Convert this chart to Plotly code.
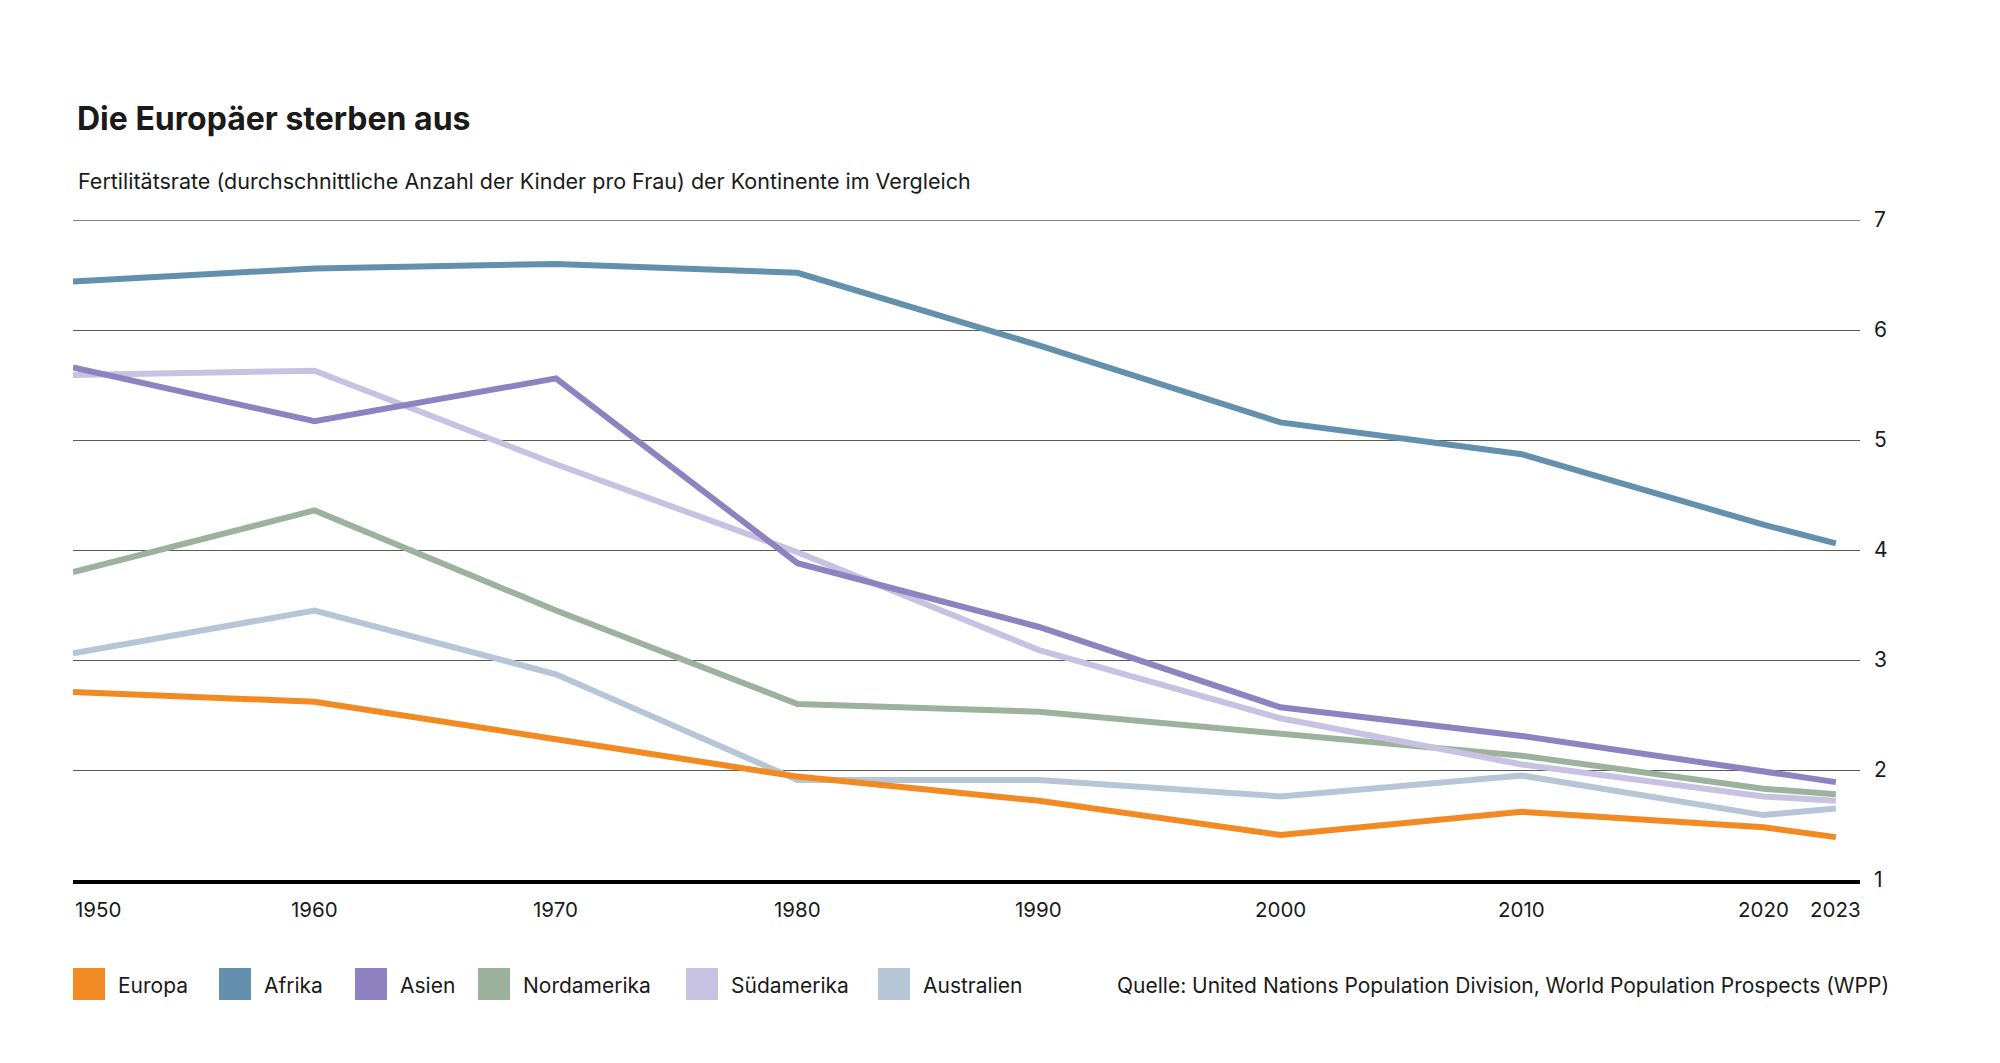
import plotly.graph_objects as go

# data
years = [1950, 1960, 1970, 1980, 1990, 2000, 2010, 2020, 2023]
europa = [2.71, 2.62, 2.28, 1.94, 1.72, 1.41, 1.62, 1.48, 1.39]
afrika = [6.44, 6.56, 6.60, 6.52, 5.86, 5.16, 4.87, 4.23, 4.06]
asien = [5.66, 5.17, 5.56, 3.88, 3.30, 2.57, 2.31, 1.99, 1.89]
nordamerika = [3.80, 4.36, 3.45, 2.60, 2.53, 2.33, 2.13, 1.83, 1.78]
suedamerika = [5.59, 5.63, 4.78, 3.98, 3.09, 2.47, 2.05, 1.76, 1.72]
australien = [3.06, 3.45, 2.87, 1.91, 1.91, 1.76, 1.95, 1.59, 1.65]

series_names = ["Europa", "Afrika", "Asien", "Nordamerika", "Südamerika", "Australien"]
series_values = [europa, afrika, asien, nordamerika, suedamerika, australien]
series_colors = ["#F28A24", "#6391AD", "#8E83C0", "#9DB29C", "#C8C2E2", "#B6C6D6"]

tick_years = [1950, 1960, 1970, 1980, 1990, 2000, 2010, 2020, 2023]
y_ticks = [1, 2, 3, 4, 5, 6, 7]

title = "Die Europäer sterben aus"
subtitle = "Fertilitätsrate (durchschnittliche Anzahl der Kinder pro Frau) der Kontinente im Vergleich"
source = "Quelle: United Nations Population Division, World Population Prospects (WPP)"

# page geometry, in screen pixels; the page body has an 8px margin
OFF = 8
W, H = 2000 - OFF, 1063 - OFF
PLOT_L, PLOT_R = 73, 1860
PLOT_T, PLOT_B = 220, 880
FONT = "Inter"
LEGEND_X = [73, 219, 355, 478, 686, 878]
GRID_COLOR = '#5a5a5a'


def px_x(px):
    return (px - PLOT_L) / (PLOT_R - PLOT_L)


def px_y(py):
    return (PLOT_B - py) / (PLOT_B - PLOT_T)


fig = go.Figure()

# draw lines back to front so the order matches the picture
draw_order = [5, 3, 4, 2, 1, 0]
for i in draw_order:
    fig.add_trace(go.Scatter(
        x=years,
        y=series_values[i],
        mode='lines',
        name=series_names[i],
        line=dict(color=series_colors[i], width=6),
        showlegend=False,
        cliponaxis=False,
    ))

annotations = []
shapes = []

# top gridline sits on the plot edge, plotly skips it -> draw it by hand
shapes.append(dict(
    type='line', xref='paper', yref='y', x0=0, x1=1, y0=y_ticks[-1], y1=y_ticks[-1],
    line=dict(color=GRID_COLOR, width=1.4), layer='below',
))

# title + subtitle
annotations.append(dict(
    text="<b>" + title + "</b>", xref='paper', yref='paper',
    x=px_x(75), y=px_y(119), xanchor='left', yanchor='middle',
    showarrow=False, font=dict(family=FONT, size=32, color="#1a1a1a"),
))
annotations.append(dict(
    text=subtitle, xref='paper', yref='paper',
    x=px_x(76), y=px_y(181), xanchor='left', yanchor='middle',
    showarrow=False, font=dict(family=FONT, size=21.5, color="#1a1a1a"),
))

# x tick labels (first one is left aligned)
for yr in tick_years:
    annotations.append(dict(
        text=str(yr), xref='x', yref='paper',
        x=yr, y=px_y(909), xanchor='left' if yr == tick_years[0] else 'center',
        yanchor='middle', showarrow=False,
        font=dict(family=FONT, size=20.5, color="#1a1a1a"),
    ))

# legend: coloured squares + names
for name, color, lx in zip(series_names, series_colors, LEGEND_X):
    shapes.append(dict(
        type='rect', xref='paper', yref='paper',
        x0=px_x(lx), x1=px_x(lx + 32), y0=px_y(1000), y1=px_y(968),
        fillcolor=color, line=dict(width=0),
    ))
    annotations.append(dict(
        text=name, xref='paper', yref='paper',
        x=px_x(lx + 43), y=px_y(985), xanchor='left', yanchor='middle',
        showarrow=False, font=dict(family=FONT, size=21, color="#1a1a1a"),
    ))

annotations.append(dict(
    text=source, xref='paper', yref='paper',
    x=px_x(1891), y=px_y(985), xanchor='right', yanchor='middle',
    showarrow=False, font=dict(family=FONT, size=21, color="#1a1a1a"),
))

fig.update_layout(
    width=W,
    height=H,
    margin=dict(l=PLOT_L - OFF, r=2000 - PLOT_R, t=PLOT_T - OFF, b=1063 - PLOT_B, pad=0),
    paper_bgcolor='white',
    plot_bgcolor='white',
    showlegend=False,
    annotations=annotations,
    shapes=shapes,
    xaxis=dict(
        range=[1950, 2024],
        showgrid=False,
        zeroline=False,
        showticklabels=False,
        ticks='',
        showline=True,
        linecolor='black',
        linewidth=4,
    ),
    yaxis=dict(
        range=[1, 7],
        side='right',
        tickvals=y_ticks,
        showgrid=True,
        gridcolor=GRID_COLOR,
        gridwidth=1.4,
        zeroline=False,
        showline=False,
        ticks='',
        ticklabelstandoff=13,
        tickfont=dict(family=FONT, size=21, color="#1a1a1a"),
    ),
)

fig.write_html("out.html")
